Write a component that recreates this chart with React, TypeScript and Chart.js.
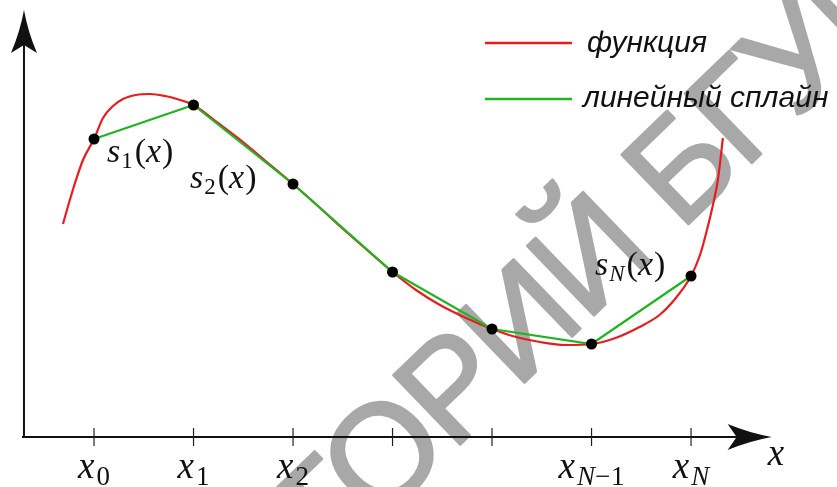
import { useEffect, useRef } from "react";
import { Chart, registerables } from "chart.js";

Chart.register(...registerables);

// ---- data (abstract units) ----
const knotX = [0, 1, 2, 3, 4, 5, 6];
const knotY = [2.98, 3.32, 2.53, 1.65, 1.08, 0.93, 1.61];

const funcX = [
  -0.312, -0.261, -0.191, -0.111, 0, 0.09, 0.191, 0.291, 0.422, 0.563, 0.714,
  0.834, 1.0, 1.246, 1.497, 1.749, 2.0, 2.251, 2.492, 2.744, 3.0, 3.236, 3.477,
  3.739, 4.0, 4.241, 4.482, 4.734, 5.0, 5.241, 5.482, 5.683, 5.814, 6.0, 6.09,
  6.16, 6.22, 6.27, 6.32,
];
const funcY = [
  2.13, 2.31, 2.54, 2.77, 2.98, 3.19, 3.31, 3.38, 3.42, 3.43, 3.41, 3.38, 3.32,
  3.14, 2.95, 2.74, 2.53, 2.31, 2.09, 1.87, 1.65, 1.47, 1.32, 1.19, 1.08, 1.0,
  0.95, 0.92, 0.93, 0.99, 1.1, 1.22, 1.35, 1.61, 1.82, 2.07, 2.32, 2.57, 2.99,
];

// tick labels: [main, subscript]
const tickMain = ["x", "x", "x", "", "", "x", "x"];
const tickSub = ["0", "1", "2", "", "", "N−1", "N"];

const legendLabels = ["функция", "линейный сплайн"];
const pieceMain = ["s", "s", "s"];
const pieceSub = ["1", "2", "N"];
const pieceAnchorX = [0.13, 0.965, 5.035];
const pieceAnchorY = [2.75, 2.49, 1.62];

const axisLabel = "x";
const watermark = "РЕПОЗИТОРИЙ БГУИР";
const watermarkPrefix = "РЕПОЗИТ";

// ---- styling ----
const RED = "#e61c1e";
const GREEN = "#22b322";
const INK = "#111111";
const MATH = '"Liberation Serif", "DejaVu Serif", serif';
const SANS = '"Liberation Sans", Arial, sans-serif';

const X_MIN = -0.945;
const X_MAX = 7.467;
const Y_MIN = -0.5;
const Y_MAX = 4.37;
const AXIS_ORIGIN_X = -0.704;
const AXIS_START_X = -0.724;
const X_AXIS_END = 6.81;
const Y_AXIS_END = 4.27;

function drawSeg(ctx: CanvasRenderingContext2D, text: string, x: number, y: number, size: number) {
  let cx = x;
  for (const ch of text) {
    const italic = /[A-Za-z]/.test(ch);
    ctx.font = `${italic ? "italic " : ""}${size}px ${MATH}`;
    ctx.fillText(ch, cx, y);
    cx += ctx.measureText(ch).width + (ch === "−" ? 1 : 0);
  }
  return cx;
}
function segWidth(ctx: CanvasRenderingContext2D, text: string, size: number) {
  let w = 0;
  for (const ch of text) {
    const italic = /[A-Za-z]/.test(ch);
    ctx.font = `${italic ? "italic " : ""}${size}px ${MATH}`;
    w += ctx.measureText(ch).width + (ch === "−" ? 1 : 0);
  }
  return w;
}

const decorPlugin = {
  id: "decor",
  beforeDatasetsDraw(chart: any) {
    const ctx: CanvasRenderingContext2D = chart.ctx;
    const xs = chart.scales.x;
    const ys = chart.scales.y;

    // watermark (behind everything else)
    ctx.save();
    ctx.fillStyle = "#a8a8a8";
    ctx.strokeStyle = "#a8a8a8";
    ctx.lineWidth = 2.5;
    ctx.lineJoin = "round";
    ctx.font = `140px ${SANS}`;
    (ctx as any).letterSpacing = "-4px";
    ctx.translate(381, 521);
    ctx.rotate((-44 * Math.PI) / 180);
    const pre = ctx.measureText(watermarkPrefix).width;
    ctx.textBaseline = "alphabetic";
    ctx.fillText(watermark, -pre, 0);
    ctx.strokeText(watermark, -pre, 0);
    (ctx as any).letterSpacing = "0px";
    ctx.restore();

    const ox = xs.getPixelForValue(AXIS_ORIGIN_X);
    const oy = ys.getPixelForValue(0);
    const x0 = xs.getPixelForValue(AXIS_START_X);
    const xEnd = xs.getPixelForValue(X_AXIS_END);
    const yEnd = ys.getPixelForValue(Y_AXIS_END);

    ctx.save();
    ctx.strokeStyle = INK;
    ctx.fillStyle = INK;
    ctx.lineWidth = 2;
    ctx.beginPath();
    ctx.moveTo(x0, oy);
    ctx.lineTo(xEnd - 30, oy);
    ctx.stroke();
    ctx.beginPath();
    ctx.moveTo(ox, oy + 1);
    ctx.lineTo(ox, yEnd + 30);
    ctx.stroke();

    ctx.beginPath();
    ctx.moveTo(xEnd, oy);
    ctx.quadraticCurveTo(xEnd - 22, oy - 4, xEnd - 44, oy - 13);
    ctx.lineTo(xEnd - 35, oy);
    ctx.lineTo(xEnd - 44, oy + 13);
    ctx.quadraticCurveTo(xEnd - 22, oy + 4, xEnd, oy);
    ctx.fill();

    ctx.beginPath();
    ctx.moveTo(ox, yEnd);
    ctx.quadraticCurveTo(ox - 4, yEnd + 22, ox - 13, yEnd + 43);
    ctx.lineTo(ox, yEnd + 35);
    ctx.lineTo(ox + 13, yEnd + 43);
    ctx.quadraticCurveTo(ox + 4, yEnd + 22, ox, yEnd);
    ctx.fill();

    ctx.lineWidth = 1.2;
    ctx.strokeStyle = "#222";
    for (const v of knotX) {
      const px = xs.getPixelForValue(v);
      ctx.beginPath();
      ctx.moveTo(px, oy - 9);
      ctx.lineTo(px, oy + 9);
      ctx.stroke();
    }
    ctx.restore();
  },
  afterDatasetsDraw(chart: any) {
    const ctx: CanvasRenderingContext2D = chart.ctx;
    const xs = chart.scales.x;
    const ys = chart.scales.y;
    const oy = ys.getPixelForValue(0);
    ctx.save();
    ctx.fillStyle = INK;
    ctx.textAlign = "left";
    ctx.textBaseline = "alphabetic";

    knotX.forEach((v, i) => {
      if (!tickMain[i]) return;
      const px = xs.getPixelForValue(v);
      const mw = segWidth(ctx, tickMain[i], 37);
      const sw = segWidth(ctx, tickSub[i], 27);
      const start = px - (mw + 2 + sw) / 2;
      drawSeg(ctx, tickMain[i], start, oy + 41, 37);
      drawSeg(ctx, tickSub[i], start + mw + 2, oy + 48, 27);
    });

    drawSeg(ctx, axisLabel, xs.getPixelForValue(X_AXIS_END) - 4, oy + 28, 37);

    pieceMain.forEach((m, i) => {
      const px = xs.getPixelForValue(pieceAnchorX[i]);
      const py = ys.getPixelForValue(pieceAnchorY[i]);
      let cx = drawSeg(ctx, m, px, py, 34);
      cx = drawSeg(ctx, pieceSub[i], cx + 1, py + 6, 23);
      ctx.font = `34px ${MATH}`;
      ctx.fillText("(", cx + 2, py);
      cx += 2 + ctx.measureText("(").width;
      cx = drawSeg(ctx, "x", cx, py, 34);
      ctx.font = `34px ${MATH}`;
      ctx.fillText(")", cx + 1, py);
    });

    const colors = [RED, GREEN];
    const lineY = [43, 99];
    const textY = [52, 107];
    const textX = [587, 583];
    legendLabels.forEach((lab, i) => {
      ctx.strokeStyle = colors[i];
      ctx.lineWidth = 2.5;
      ctx.beginPath();
      ctx.moveTo(485, lineY[i]);
      ctx.lineTo(572, lineY[i]);
      ctx.stroke();
      ctx.fillStyle = INK;
      ctx.font = `italic 30px ${SANS}`;
      ctx.fillText(lab, textX[i], textY[i]);
    });
    ctx.restore();
  },
};

export default function App() {
  const ref = useRef<HTMLCanvasElement | null>(null);
  useEffect(() => {
    if (!ref.current) return;
    const chart = new Chart(ref.current, {
      type: "scatter",
      data: {
        datasets: [
          {
            label: legendLabels[1],
            data: knotX.map((x, i) => ({ x, y: knotY[i] })),
            showLine: true,
            borderColor: GREEN,
            borderWidth: 2.2,
            pointRadius: 5.5,
            pointBackgroundColor: "#000",
            pointBorderColor: "#000",
            pointBorderWidth: 0,
            tension: 0,
          },
          {
            label: legendLabels[0],
            data: funcX.map((x, i) => ({ x, y: funcY[i] })),
            showLine: true,
            borderColor: RED,
            borderWidth: 2.2,
            pointRadius: 0,
            cubicInterpolationMode: "monotone",
          },
        ],
      },
      options: {
        animation: false,
        responsive: true,
        maintainAspectRatio: false,
        events: [],
        layout: { padding: 0, autoPadding: false },
        plugins: { legend: { display: false }, tooltip: { enabled: false } },
        scales: {
          x: { type: "linear", display: false, min: X_MIN, max: X_MAX },
          y: { type: "linear", display: false, min: Y_MIN, max: Y_MAX },
        },
      },
      plugins: [decorPlugin],
    });
    return () => chart.destroy();
  }, []);
  return (
    <div style={{ position: "fixed", left: 0, top: 0, width: 837, height: 487, background: "#fff" }}>
      <canvas ref={ref} />
    </div>
  );
}
